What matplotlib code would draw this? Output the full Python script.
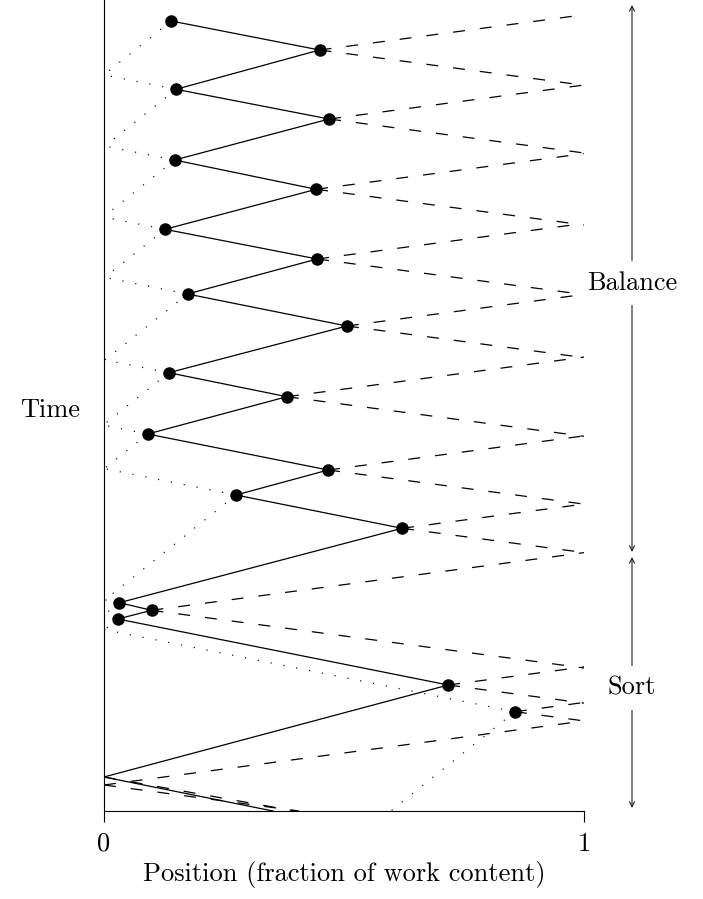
import matplotlib
matplotlib.use('Agg')
import matplotlib.pyplot as plt
import numpy as np

plt.rcParams['font.family'] = ['cmr10', 'DejaVu Serif']
plt.rcParams['lines.scale_dashes'] = False

# solid path of the work pointer, bottom (t=0) to top
path_pos = [0.352, 0.000, 0.717, 0.029, 0.099, 0.032, 0.621, 0.275, 0.467, 0.091,
            0.381, 0.135, 0.506, 0.174, 0.444, 0.127, 0.442, 0.147, 0.469, 0.150,
            0.449, 0.140]
path_time = [0.00, 0.34, 1.26, 1.92, 2.007, 2.083, 2.827, 3.16, 3.41, 3.77,
             4.143, 4.383, 4.85, 5.17, 5.52, 5.817, 6.217, 6.51, 6.92, 7.217,
             7.61, 7.90]
marked = [False, False] + [True] * 20

# isolated turning point
lone_pos = [0.856]
lone_time = [0.993]

# left turns: dotted cones back to position 0
left_pos = [0.856, 0.029, 0.032, 0.275, 0.091, 0.135, 0.174, 0.127, 0.147, 0.150, 0.140]
left_time = [0.993, 1.92, 2.083, 3.16, 3.77, 4.383, 5.17, 5.817, 6.51, 7.217, 7.90]
left_up = [True] * 10 + [False]

# right turns: dashed cones out to position 1
right_pos = [0.000, 0.856, 0.717, 0.099, 0.621, 0.467, 0.381, 0.506, 0.444, 0.442, 0.469, 0.449]
right_time = [0.26, 0.993, 1.26, 2.007, 2.827, 3.41, 4.143, 4.85, 5.52, 6.217, 6.92, 7.61]

# dashed echo of the first sweep
echo_pos = [0.000, 0.398]
echo_time = [0.34, 0.00]

slope_right = 0.64
slope_left_up = 0.96
slope_left_down = 3.84

dashed = (0, (8.6, 10.8))
dotted = (0, (0.8, 8.6))
lw = 0.9
fs = 19

fig = plt.figure(figsize=(7.03, 8.99), dpi=100)
ax = fig.add_axes([104 / 703, 88 / 899, 480 / 703, 811 / 899])
ax.set_xlim(0, 1)
ax.set_ylim(0, 8.11)

ax.plot(path_pos, path_time, color='black', lw=lw, zorder=3)
mx = [p for p, m in zip(path_pos, marked) if m]
my = [t for t, m in zip(path_time, marked) if m]
ax.plot(mx, my, 'o', color='black', ms=8, zorder=4)
ax.plot(lone_pos, lone_time, 'o', color='black', ms=8, zorder=4)

for x, t, up in zip(left_pos, left_time, left_up):
    xe = max(0.0, x - t / slope_left_down)
    ax.plot([x, xe], [t, t - slope_left_down * (x - xe)], color='black', lw=lw, ls=dotted)
    if up:
        ax.plot([x, 0], [t, t + slope_left_up * x], color='black', lw=lw, ls=dotted)

for x, t in zip(right_pos, right_time):
    ax.plot([x, 1], [t, t + slope_right * (1 - x)], color='black', lw=lw, ls=dashed)
    xe = min(1.0, x + t / slope_right)
    ax.plot([x, xe], [t, t - slope_right * (xe - x)], color='black', lw=lw, ls=dashed)

ax.plot(echo_pos, echo_time, color='black', lw=lw, ls=dashed)

for s in ['top', 'right']:
    ax.spines[s].set_visible(False)
for s in ['left', 'bottom']:
    ax.spines[s].set_linewidth(0.8)
ax.set_yticks([])
ax.set_xticks([0, 1])
ax.set_xticklabels(['0', '1'])
ax.tick_params(axis='x', direction='out', length=8, width=0.8, labelsize=fs, pad=7)
ax.set_xlabel('Position (fraction of work content)', fontsize=fs, labelpad=4)

fig.text(50 / 703, 1 - 410 / 899, 'Time', fontsize=fs, ha='center', va='center')

arrow_x = 1.1
phases = [('Balance', 2.59, 8.06, 5.28), ('Sort', 0.03, 2.54, 1.23)]
for name, lo, hi, mid in phases:
    ax.annotate('', xy=(arrow_x, hi), xytext=(arrow_x, lo),
                arrowprops=dict(arrowstyle='<->', lw=0.8, mutation_scale=9,
                                shrinkA=0, shrinkB=0, color='#222222'),
                annotation_clip=False)
    ax.text(arrow_x, mid, name, fontsize=fs, ha='center', va='center', clip_on=False,
            bbox=dict(boxstyle='square,pad=0.4', facecolor='white', edgecolor='none'))

fig.savefig('out.png', dpi=100, facecolor='white')
